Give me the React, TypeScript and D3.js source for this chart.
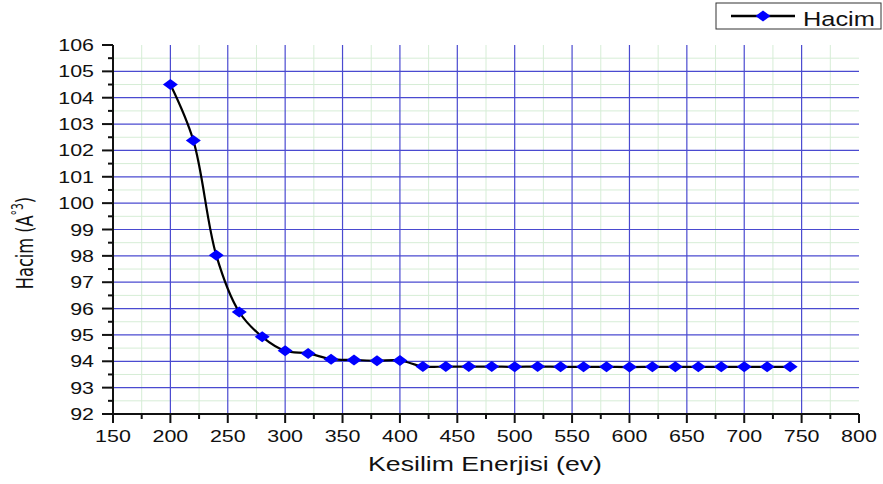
import React from "react";
import * as d3 from "d3";

// Cut-off energy (eV) and resulting cell volume (Å^3)
const energies = [200, 220, 240, 260, 280, 300, 320, 340, 360, 380, 400, 420, 440, 460, 480, 500, 520, 540, 560, 580, 600, 620, 640, 660, 680, 700, 720, 740];
const volumes = [104.5, 102.38, 98.02, 95.87, 94.93, 94.4, 94.3, 94.08, 94.05, 94.02, 94.03, 93.8, 93.8, 93.8, 93.8, 93.79, 93.8, 93.79, 93.79, 93.79, 93.78, 93.79, 93.79, 93.79, 93.79, 93.79, 93.79, 93.79];

const xTicks = [150, 200, 250, 300, 350, 400, 450, 500, 550, 600, 650, 700, 750, 800];
const yTicks = [92, 93, 94, 95, 96, 97, 98, 99, 100, 101, 102, 103, 104, 105, 106];

const W = 883;
const H = 484;
const FONT = "'Liberation Sans', Arial, sans-serif";
// Text in this figure is drawn horizontally widened
const WIDEN = 1.3;

export default function App() {
  const x = d3.scaleLinear().domain([150, 800]).range([113, 859]);
  const y = d3.scaleLinear().domain([92, 106]).range([414, 45]);

  const xMinor = d3.range(175, 800, 50);
  const yMinor = d3.range(92.5, 106, 1);

  const pts = energies.map((e, i) => [x(e), y(volumes[i])] as [number, number]);
  const line = d3.line().curve(d3.curveCatmullRom.alpha(0.5))(pts) || "";

  const diamond = (cx: number, cy: number, w = 7.5, h = 5.5) =>
    `M${cx - w},${cy}L${cx},${cy - h}L${cx + w},${cy}L${cx},${cy + h}Z`;

  const x0 = x(150);
  const x1 = x(800);
  const y0 = y(92);
  const yTop = y(106);

  const wideText = (tx: number, ty: number, s: string | number, size: number, anchor: string) => (
    <text transform={`translate(${tx},${ty}) scale(${WIDEN},1)`} fontSize={size} textAnchor={anchor} fill="#111">{s}</text>
  );

  return (
    <svg width={W} height={H} style={{ position: "absolute", left: 0, top: 0, background: "#fff" }} fontFamily={FONT}>
      {/* minor grid */}
      {xMinor.map((v) => (
        <line key={"xm" + v} x1={x(v)} x2={x(v)} y1={y0} y2={yTop} stroke="#d6edd6" strokeWidth={1} />
      ))}
      {yMinor.map((v) => (
        <line key={"ym" + v} x1={x0} x2={x1} y1={y(v)} y2={y(v)} stroke="#d6edd6" strokeWidth={1} />
      ))}
      {/* major grid */}
      {xTicks.filter((v) => v > 150 && v < 800).map((v) => (
        <line key={"xg" + v} x1={x(v)} x2={x(v)} y1={y0} y2={yTop} stroke="#4a4ad0" strokeWidth={1.2} />
      ))}
      {yTicks.filter((v) => v > 92 && v < 106).map((v) => (
        <line key={"yg" + v} x1={x0} x2={x1} y1={y(v)} y2={y(v)} stroke="#4a4ad0" strokeWidth={1.2} />
      ))}

      {/* axes */}
      <line x1={x0} x2={x0} y1={y0 + 1} y2={yTop} stroke="#111" strokeWidth={2} />
      <line x1={x0 - 1} x2={x1} y1={y0} y2={y0} stroke="#111" strokeWidth={2} />
      {xTicks.map((v) => (
        <g key={"xt" + v}>
          <line x1={x(v)} x2={x(v)} y1={y0} y2={y0 + 9} stroke="#111" strokeWidth={2} />
          {wideText(x(v), 442, v, 16.5, "middle")}
        </g>
      ))}
      {xMinor.map((v) => (
        <line key={"xmt" + v} x1={x(v)} x2={x(v)} y1={y0} y2={y0 + 5} stroke="#111" strokeWidth={2} />
      ))}
      {yTicks.map((v) => (
        <g key={"yt" + v}>
          <line x1={x0 - 11} x2={x0} y1={y(v)} y2={y(v)} stroke="#111" strokeWidth={2} />
          {wideText(94, y(v) + 6, v, 16.5, "end")}
        </g>
      ))}
      {yMinor.map((v) => (
        <line key={"ymt" + v} x1={x0 - 5} x2={x0} y1={y(v)} y2={y(v)} stroke="#111" strokeWidth={2} />
      ))}

      {/* series */}
      <path d={line} fill="none" stroke="#000" strokeWidth={2.2} />
      {pts.map(([cx, cy], i) => (
        <path key={"p" + i} d={diamond(cx, cy)} fill="#0000ff" />
      ))}

      {/* axis titles */}
      {wideText(485, 471, "Kesilim Enerjisi (ev)", 20.5, "middle")}
      <text transform={`translate(33,243) scale(${WIDEN},1) rotate(-90)`} fontSize={18} textAnchor="middle" fill="#111"
        fontFamily="'Liberation Sans Narrow', 'DejaVu Sans Condensed', sans-serif">
        Hacim (A<tspan fontSize={12} dy={-8}>°3</tspan><tspan dy={8}>)</tspan>
      </text>

      {/* legend */}
      <rect x={716} y={3} width={165} height={26} fill="#fff" stroke="#333" strokeWidth={1} />
      <line x1={731} x2={795} y1={16} y2={16} stroke="#000" strokeWidth={2.4} />
      <path d={diamond(763, 16)} fill="#0000ff" />
      {wideText(803, 26, "Hacim", 19.5, "start")}
    </svg>
  );
}
